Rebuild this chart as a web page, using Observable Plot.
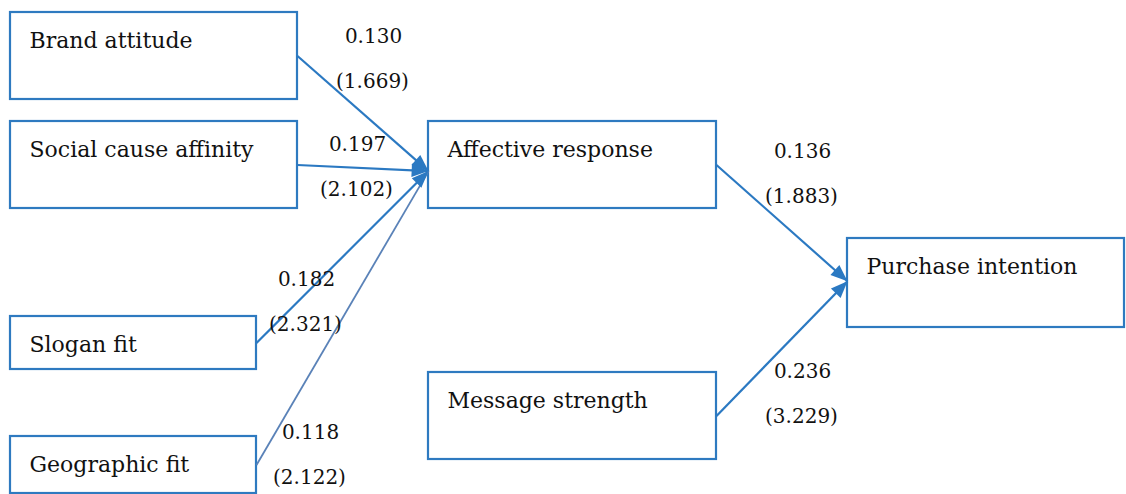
<!DOCTYPE html>
<html>
<head>
<meta charset="utf-8">
<script src="https://cdn.jsdelivr.net/npm/d3@7"></script>
<script src="https://cdn.jsdelivr.net/npm/@observablehq/plot@0.6"></script>
<style>
  html, body { margin: 0; padding: 0; background: #fff; }
  #chart svg { display: block; }
</style>
</head>
<body>
<div id="chart"></div>
<script>
// Constructs of the structural model
const constructs = ["Brand attitude", "Social cause affinity", "Slogan fit", "Geographic fit",
                    "Affective response", "Message strength", "Purchase intention"];
// Diagram layout of each construct box (diagram units)
const boxLeft   = [10, 10, 10, 10, 428, 428, 847];
const boxRight  = [297, 297, 256, 256, 716, 716, 1124];
const boxTop    = [12, 121, 316, 436, 121, 372, 238];
const boxBottom = [99, 208, 369, 493, 208, 459, 327];
// Where incoming arrows meet the left edge (fraction of box height)
const inAnchor  = [0.5, 0.5, 0.5, 0.5, 0.57, 0.5, 0.48];

// Paths: source -> target, standardized coefficient and t-value
const pathFrom  = ["Brand attitude", "Social cause affinity", "Slogan fit", "Geographic fit",
                   "Affective response", "Message strength"];
const pathTo    = ["Affective response", "Affective response", "Affective response", "Affective response",
                   "Purchase intention", "Purchase intention"];
const coefficients = ["0.130", "0.197", "0.182", "0.118", "0.136", "0.236"];
const tValues      = ["(1.669)", "(2.102)", "(2.321)", "(2.122)", "(1.883)", "(3.229)"];
// Label anchor for each path (diagram units)
const labelX = [373, 357, 306, 310, 802, 802];
const labelY = [42, 150, 285, 438, 157, 377];

const nodes = constructs.map((name, i) => ({
  name, x0: boxLeft[i], x1: boxRight[i], y0: boxTop[i], y1: boxBottom[i], a: inAnchor[i]
}));
const byName = new Map(nodes.map(n => [n.name, n]));
const paths = pathFrom.map((f, i) => {
  const s = byName.get(f), t = byName.get(pathTo[i]);
  const sx = s.x1, sy = (s.y0 + s.y1) / 2;
  const tx = t.x0, ty = t.y0 + (t.y1 - t.y0) * t.a;
  return {
    from: f, to: pathTo[i], coef: coefficients[i], t: tValues[i],
    sx, sy, tx, ty,
    angle: Math.atan2(ty - sy, tx - sx) * 180 / Math.PI + 90,
    lx: labelX[i], ly: labelY[i],
    light: f === "Geographic fit"
  };
});

// Filled arrowhead symbol, tip at the origin, pointing up
const arrowHead = {
  draw(context, size) {
    const L = Math.sqrt(size) * 1.0, w = L * 0.4;
    context.moveTo(0, 0);
    context.lineTo(-w, L);
    context.lineTo(w, L);
    context.closePath();
  }
};

const blue = "#2b79c2";
const font = "DejaVu Serif";

const chart = Plot.plot({
  width: 1126,
  height: 494,
  margin: 0,
  style: { background: "#fff", fontFamily: font },
  x: { domain: [0, 1126], range: [0, 1126], axis: null },
  y: { domain: [0, 494], range: [0, 494], axis: null },
  marks: [
    Plot.rect(nodes, { x1: "x0", x2: "x1", y1: "y0", y2: "y1", fill: "white", stroke: "#2e7ac0", strokeWidth: 2.2 }),
    Plot.link(paths.filter(d => !d.light), {
      x1: "sx", y1: "sy", x2: "tx", y2: "ty", stroke: blue, strokeWidth: 2.2
    }),
    Plot.link(paths.filter(d => d.light), {
      x1: "sx", y1: "sy", x2: "tx", y2: "ty", stroke: "#5a82b8", strokeWidth: 1.8
    }),
    Plot.dot(paths.filter(d => !d.light), {
      x: "tx", y: "ty", rotate: "angle", symbol: arrowHead, r: 9.5,
      fill: blue, stroke: "none"
    }),
    Plot.text(nodes, {
      x: d => d.x0 + 19, y: d => d.y0 + 35, text: "name",
      textAnchor: "start", lineAnchor: "bottom", fontSize: 22, fill: "#111", fontFamily: font
    }),
    Plot.text(paths, {
      x: "lx", y: "ly", text: "coef",
      textAnchor: "middle", lineAnchor: "bottom", fontSize: 20, fill: "#111", fontFamily: font
    }),
    Plot.text(paths, {
      x: d => d.lx - 1, y: d => d.ly + 45, text: "t",
      textAnchor: "middle", lineAnchor: "bottom", fontSize: 20, fill: "#111", fontFamily: font
    })
  ]
});
document.getElementById("chart").appendChild(chart);
</script>
</body>
</html>
